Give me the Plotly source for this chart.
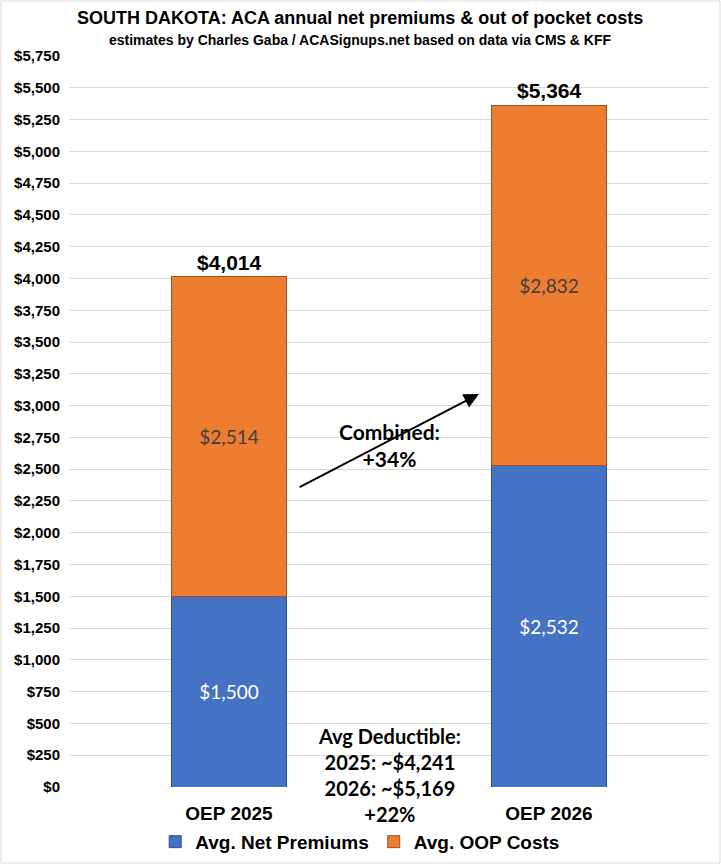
import plotly.graph_objects as go

# Chart data
categories = ["OEP 2025", "OEP 2026"]
net_premiums = [1500, 2532]
oop_costs = [2514, 2832]
totals = [p + o for p, o in zip(net_premiums, oop_costs)]

y_ticks = list(range(0, 5751, 250))
y_tick_labels = [f"${v:,}" for v in y_ticks]

title_text = "SOUTH DAKOTA: ACA annual net premiums & out of pocket costs"
subtitle_text = "estimates by Charles Gaba / ACASignups.net based on data via CMS & KFF"
combined_note = "Combined:<br>+34%"
deductible_note = "Avg Deductible:<br>2025: ~$4,241<br>2026: ~$5,169<br>+22%"

ARIAL = "Liberation Sans, Arial, sans-serif"
ROUND = "Lato, Open Sans, sans-serif"

x_pos = list(range(len(categories)))

fig = go.Figure()

fig.add_trace(go.Bar(
    x=x_pos, y=net_premiums, name="<b>Avg. Net Premiums</b>",
    marker=dict(color="#4472C4", line=dict(color="#2F4F86", width=1)),
    text=[f"${v:,}" for v in net_premiums], textposition="inside",
    insidetextanchor="middle",
    textfont=dict(family=ROUND, size=19, color="white"),
    hoverinfo="skip",
))
fig.add_trace(go.Bar(
    x=x_pos, y=oop_costs, name="<b>Avg. OOP Costs</b>",
    marker=dict(color="#ED7D31", line=dict(color="#9C5226", width=1)),
    text=[f"${v:,}" for v in oop_costs], textposition="inside",
    insidetextanchor="middle",
    textfont=dict(family=ROUND, size=19, color="#404040"),
    hoverinfo="skip",
))

# totals above the bars
for xi, t in zip(x_pos, totals):
    fig.add_annotation(x=xi, y=t, text=f"<b>${t:,}</b>", showarrow=False,
                       yanchor="bottom", yshift=1,
                       font=dict(family=ARIAL, size=21, color="black"))

# arrow + combined text
fig.add_annotation(x=0.781, y=3091, ax=0.216, ay=2352, xref="x", yref="y",
                   axref="x", ayref="y", text="", showarrow=True,
                   arrowhead=2, arrowsize=1.5, arrowwidth=2, arrowcolor="black")
fig.add_annotation(x=0.5, y=2690, text=f"<b>{combined_note}</b>", showarrow=False,
                   font=dict(family=ROUND, size=21, color="black"))
fig.add_annotation(x=0.5, y=94, text=f"<b>{deductible_note}</b>", showarrow=False,
                   yanchor="middle",
                   font=dict(family=ROUND, size=20, color="black"))

# title and subtitle
fig.add_annotation(x=0.455, y=1.052, xref="paper", yref="paper",
                   text=f"<b>{title_text}</b>", showarrow=False, yanchor="middle",
                   font=dict(family=ARIAL, size=18, color="black"))
fig.add_annotation(x=0.455, y=1.022, xref="paper", yref="paper",
                   text=f"<b>{subtitle_text}</b>", showarrow=False, yanchor="middle",
                   font=dict(family=ARIAL, size=14, color="black"))

# light frame round the chart
fig.add_shape(type="rect", xref="paper", yref="paper",
              x0=-68 / 640, x1=651 / 640, y0=-76 / 731, y1=786 / 731,
              line=dict(color="#D9D9D9", width=1))

fig.update_layout(
    barmode="stack",
    bargap=0.64,
    width=721, height=864,
    margin=dict(l=69, r=12, t=56, b=77, autoexpand=False),
    paper_bgcolor="white",
    plot_bgcolor="white",
    legend=dict(orientation="h", x=0.455, xanchor="center", y=-0.049, yanchor="top",
                font=dict(family=ARIAL, size=19, color="black"),
                traceorder="normal", itemwidth=30),
    showlegend=True,
)

fig.update_xaxes(
    tickvals=x_pos, ticktext=[f"<b>{c}</b>" for c in categories],
    range=[-0.5, 1.5], showgrid=False, zeroline=False, showline=False,
    tickfont=dict(family=ARIAL, size=19, color="black"), ticks="",
    ticklabelstandoff=13, automargin=False,
)
fig.update_yaxes(
    range=[0, 5750], tickvals=y_ticks, ticktext=[f"<b>{t}</b>" for t in y_tick_labels],
    showgrid=True, gridcolor="#D9D9D9", gridwidth=1, zeroline=False,
    tickfont=dict(family=ARIAL, size=15, color="black"), ticks="",
    ticklabelstandoff=8, automargin=False,
)

# pin the figure to the window's top-left corner so the page does not overflow
pin_js = (
    "document.body.style.margin='0';"
    "var d=document.getElementById('{plot_id}');"
    "d.style.position='fixed';d.style.top='0';d.style.left='0';"
)
fig.write_html("out.html", post_script=pin_js, config={"displayModeBar": False})
